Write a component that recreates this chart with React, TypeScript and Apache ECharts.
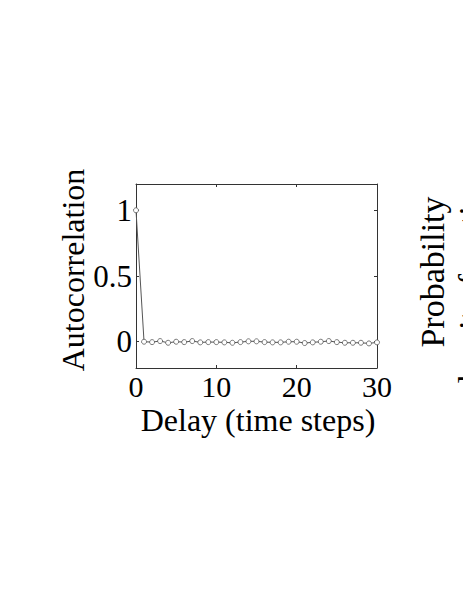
import React, { useEffect, useRef } from "react";
import * as echarts from "echarts";

const lags: number[] = Array.from({ length: 31 }, (_, i) => i);
const acf: number[] = [
  1, 0.0, -0.003, 0.005, -0.008, 0.0, -0.003, 0.005, -0.005, -0.003, -0.003,
  -0.005, -0.008, -0.003, 0.003, 0.003, -0.003, -0.005, -0.005, 0.0, 0.0,
  -0.01, -0.005, 0.0, 0.005, -0.003, -0.008, -0.008, -0.008, -0.013, -0.005,
];
const yTicks: number[] = [0, 0.5, 1];
const xTitle = "Delay (time steps)";
const yTitle = "Autocorrelation";
const rightTitle1 = "Probability";
const rightTitle2 = "density function";

const FONT = "'Liberation Serif', 'DejaVu Serif', serif";
const AX = "#333";

export default function App() {
  const ref = useRef<HTMLDivElement>(null);
  useEffect(() => {
    document.body.style.margin = "0";
    const chart = echarts.init(ref.current!, null, { renderer: "svg" });
    const data = lags.map((x, i) => [x, acf[i]]);
    chart.setOption({
      animation: false,
      backgroundColor: "#fff",
      grid: { left: 136, top: 184, width: 241, height: 184, containLabel: false },
      xAxis: [
        {
          type: "value",
          min: 0,
          max: 30,
          interval: 10,
          position: "bottom",
          axisLine: { show: true, onZero: false, lineStyle: { color: AX, width: 1 } },
          axisTick: { show: true, inside: true, length: 3, lineStyle: { color: AX } },
          axisLabel: {
            show: true,
            margin: 6,
            lineHeight: 24,
            fontFamily: FONT,
            fontSize: 30,
            color: "#000",
          },
          splitLine: { show: false },
        },
        {
          type: "value",
          min: 0,
          max: 30,
          interval: 10,
          position: "top",
          axisLine: { show: true, onZero: false, lineStyle: { color: AX, width: 1 } },
          axisTick: { show: true, inside: true, length: 3, lineStyle: { color: AX } },
          axisLabel: { show: false },
          splitLine: { show: false },
        },
      ],
      yAxis: [
        {
          type: "value",
          min: -0.2,
          max: 1.2,
          position: "left",
          axisLine: { show: true, onZero: false, lineStyle: { color: AX, width: 1 } },
          axisTick: { show: true, inside: true, length: 3, customValues: yTicks, lineStyle: { color: AX } },
          axisLabel: {
            show: true,
            margin: 4,
            customValues: yTicks,
            fontFamily: FONT,
            fontSize: 31,
            color: "#000",
          },
          splitLine: { show: false },
        },
        {
          type: "value",
          min: -0.2,
          max: 1.2,
          position: "right",
          axisLine: { show: true, onZero: false, lineStyle: { color: AX, width: 1 } },
          axisTick: { show: true, inside: true, length: 3, customValues: yTicks, lineStyle: { color: AX } },
          axisLabel: { show: false },
          splitLine: { show: false },
        },
      ],
      series: [
        {
          type: "line",
          data,
          xAxisIndex: 0,
          yAxisIndex: 0,
          symbol: "circle",
          symbolSize: 5,
          showAllSymbol: true,
          lineStyle: { color: "#555", width: 1 },
          itemStyle: { color: "#fff", borderColor: "#555", borderWidth: 0.8 },
        },
      ],
      graphic: [
        {
          type: "text",
          x: 258,
          y: 419.5,
          style: {
            text: xTitle,
            font: `32px ${FONT}`,
            lineHeight: 24,
            fill: "#000",
            align: "center",
            verticalAlign: "middle",
          },
        },
        {
          type: "text",
          x: 73,
          y: 270,
          rotation: Math.PI / 2,
          style: {
            text: yTitle,
            font: `32px ${FONT}`,
            fill: "#000",
            align: "center",
            verticalAlign: "middle",
          },
        },
        {
          type: "text",
          x: 432,
          y: 272,
          rotation: Math.PI / 2,
          style: {
            text: rightTitle1,
            font: `34px ${FONT}`,
            fill: "#000",
            align: "center",
            verticalAlign: "middle",
          },
        },
        {
          type: "text",
          x: 470,
          y: 282,
          rotation: Math.PI / 2,
          style: {
            text: rightTitle2,
            font: `34px ${FONT}`,
            fill: "#000",
            align: "center",
            verticalAlign: "middle",
          },
        },
      ],
    });
    return () => chart.dispose();
  }, []);
  return <div ref={ref} style={{ width: 463, height: 599 }} />;
}
